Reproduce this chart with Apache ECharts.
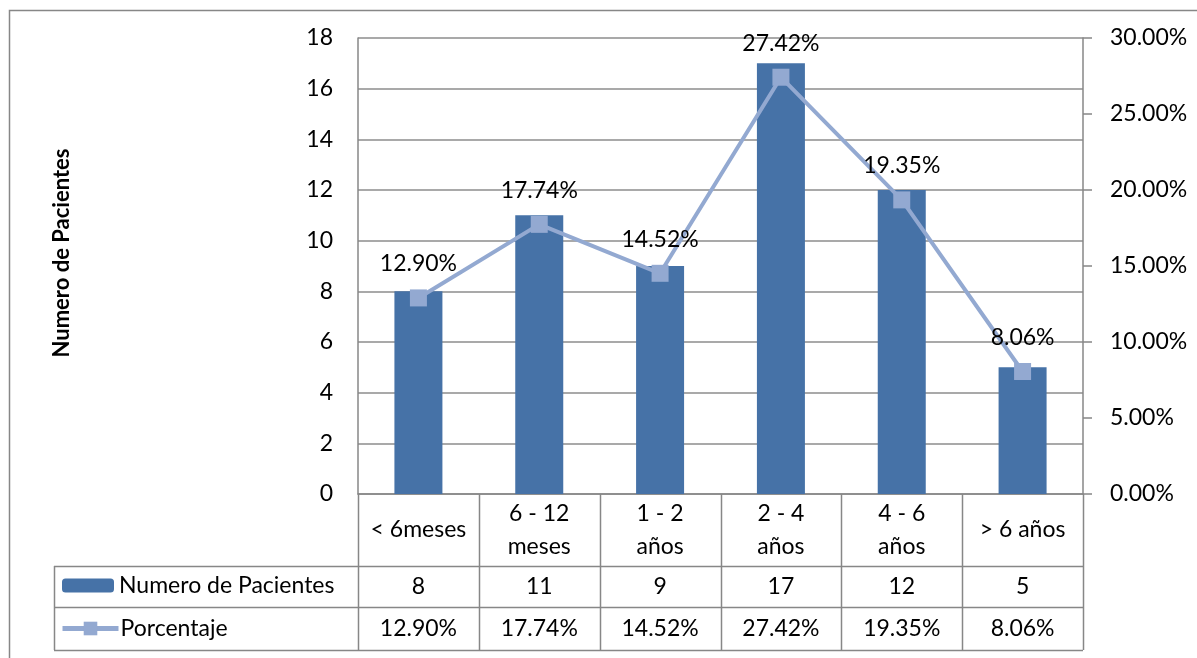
<!DOCTYPE html>
<html>
<head>
<meta charset="utf-8">
<script src="https://cdn.jsdelivr.net/npm/echarts@6/dist/echarts.min.js"></script>
<style>
  html, body { margin: 0; padding: 0; background: #ffffff; }
  #chart { width: 1197px; height: 658px; }
</style>
</head>
<body>
<div id="chart"></div>
<script>
// Age groups of the patients
const categories = ['< 6meses', '6 - 12\nmeses', '1 - 2\naños', '2 - 4\naños', '4 - 6\naños', '> 6 años'];
// Number of patients per age group
const pacientes = [8, 11, 9, 17, 12, 5];
// Share of the total, as a fraction
const porcentaje = [0.1290, 0.1774, 0.1452, 0.2742, 0.1935, 0.0806];
// Axis ranges
const leftAxis = { min: 0, max: 18, interval: 2 };
const rightAxis = { min: 0, max: 0.30, interval: 0.05 };
const axisTitle = 'Numero de Pacientes';

const FONT = 'Lato';
const FS = 23;
const GRID = { left: 358, right: 114, top: 38, bottom: 164 };
const W = 1197, H = 658;
const LINE_COLOR = '#878787';
const BAR_COLOR = '#4672a7';
const LINE_SERIES_COLOR = '#93a9d1';
const pct = v => (v * 100).toFixed(2) + '%';

// Data table geometry below the plot
const plotL = GRID.left, plotR = W - GRID.right, axisY = H - GRID.bottom;
const rowTops = [axisY, 566, 607, 650];
const legendLeft = 54;
const colW = (plotR - plotL) / categories.length;

const tableLines = [];
for (let i = 0; i <= categories.length; i++) {
  const x = Math.round(plotL + i * colW) + 0.5;
  tableLines.push({ x1: x, y1: rowTops[0], x2: x, y2: rowTops[3] });
}
tableLines.push({ x1: legendLeft + 0.5, y1: rowTops[1], x2: legendLeft + 0.5, y2: rowTops[3] });
for (let r = 1; r <= 3; r++) {
  tableLines.push({ x1: legendLeft, y1: rowTops[r] + 0.5, x2: plotR, y2: rowTops[r] + 0.5 });
}

const graphic = tableLines.map(s => ({
  type: 'line', shape: s, silent: true,
  style: { stroke: LINE_COLOR, lineWidth: 1.5 }
}));
// Outer frame of the chart area
graphic.push({
  type: 'rect', silent: true,
  shape: { x: 9.5, y: 10.5, width: 1250, height: 700 },
  style: { fill: 'none', stroke: LINE_COLOR, lineWidth: 1.5 }
});
// Left axis title
graphic.push({
  type: 'text', silent: true, x: 62, y: 253, rotation: Math.PI / 2,
  style: { text: axisTitle, fontFamily: FONT, fontSize: 22, fontWeight: 'bold',
    fill: '#000', align: 'center', verticalAlign: 'middle' }
});

const rowLabel = (offset, margin) => ({
  type: 'category', position: 'bottom', offset: offset,
  axisLine: { show: false }, axisTick: { show: false },
  axisLabel: { margin: margin, verticalAlign: 'middle', interval: 0,
    fontFamily: FONT, fontSize: FS, color: '#000' }
});

const legendText = { fontFamily: FONT, fontSize: FS, color: '#000' };

const chart = echarts.init(document.getElementById('chart'), null, { renderer: 'canvas' });
chart.setOption({
  animation: false,
  backgroundColor: '#ffffff',
  textStyle: { fontFamily: FONT },
  grid: GRID,
  legend: [
    {
      orient: 'vertical', left: 62, top: 574, padding: 0,
      itemWidth: 52, itemHeight: 14, itemGap: 0,
      textStyle: legendText,
      data: ['Numero de Pacientes']
    },
    {
      orient: 'vertical', left: 60, top: 617, padding: 0,
      itemWidth: 56, itemHeight: 17,
      lineStyle: { width: 5, color: LINE_SERIES_COLOR },
      textStyle: Object.assign({ padding: [0, 0, 0, -3] }, legendText),
      data: ['Porcentaje']
    }
  ],
  xAxis: [
    {
      type: 'category', data: categories, position: 'bottom',
      axisLine: { show: true, lineStyle: { color: LINE_COLOR, width: 1.5 } },
      axisTick: { show: false },
      axisLabel: { margin: 36, verticalAlign: 'middle', interval: 0, lineHeight: 33,
        fontFamily: FONT, fontSize: FS, color: '#000' }
    },
    Object.assign(rowLabel(rowTops[1] - axisY, 21), { data: pacientes.map(String) }),
    Object.assign(rowLabel(rowTops[2] - axisY, 22), { data: porcentaje.map(pct) })
  ],
  yAxis: [
    {
      type: 'value', min: leftAxis.min, max: leftAxis.max, interval: leftAxis.interval,
      axisLine: { show: true, lineStyle: { color: LINE_COLOR, width: 1.5 } },
      axisTick: { show: false },
      splitLine: { show: true, lineStyle: { color: '#8c8c8c', width: 1.5 } },
      axisLabel: { margin: 25, fontFamily: FONT, fontSize: FS, color: '#000' }
    },
    {
      type: 'value', position: 'right',
      min: rightAxis.min, max: rightAxis.max, interval: rightAxis.interval,
      axisLine: { show: true, lineStyle: { color: LINE_COLOR, width: 1.5 } },
      axisTick: { show: true, length: 9, lineStyle: { color: LINE_COLOR, width: 1.5 } },
      splitLine: { show: false },
      axisLabel: { margin: 27, fontFamily: FONT, fontSize: FS, color: '#000', formatter: pct }
    }
  ],
  graphic: graphic,
  series: [
    {
      name: 'Numero de Pacientes', type: 'bar', data: pacientes,
      xAxisIndex: 0, yAxisIndex: 0, barWidth: 48,
      itemStyle: { color: BAR_COLOR }
    },
    {
      name: 'Porcentaje', type: 'line', data: porcentaje,
      xAxisIndex: 0, yAxisIndex: 1,
      symbol: 'rect', symbolSize: 17,
      lineStyle: { color: LINE_SERIES_COLOR, width: 4 },
      itemStyle: { color: LINE_SERIES_COLOR },
      label: { show: true, position: 'top', distance: 14, formatter: p => pct(p.value),
        fontFamily: FONT, fontSize: FS, color: '#000' }
    }
  ]
});
</script>
</body>
</html>
